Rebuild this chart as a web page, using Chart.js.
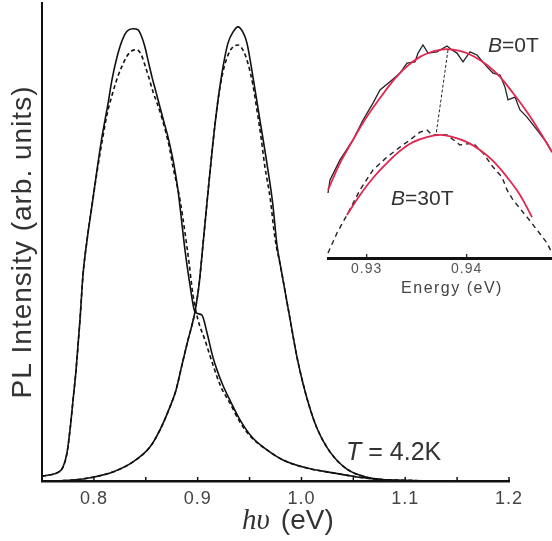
<!DOCTYPE html>
<html>
<head>
<meta charset="utf-8">
<title>PL spectra</title>
<script src="https://cdn.jsdelivr.net/npm/chart.js@4.4.1/dist/chart.umd.min.js"></script>
<style>
  html, body { margin: 0; padding: 0; background: #fff; overflow: hidden; }
  #wrap { position: relative; width: 552px; height: 541px; overflow: hidden; background: #fff; }
  #mainChart { position: absolute; left: 0; top: 0; }
  #insetChart { position: absolute; left: 327px; top: 20px; }
</style>
</head>
<body>
<div id="wrap">
  <canvas id="mainChart" width="552" height="541"></canvas>
  <canvas id="insetChart" width="248" height="283"></canvas>
</div>
<script>
// Main spectra (energy in eV, intensity in arb. units)
const lowSolidE = [0.7500,0.7577,0.7645,0.7702,0.7741,0.7770,0.7799,0.7828,0.7866,0.7895,0.7934,0.7982,0.8030,0.8078,0.8107,0.8136,0.8174,0.8223,0.8271,0.8319,0.8377,0.8425,0.8454,0.8492,0.8521,0.8560,0.8598,0.8637,0.8675,0.8714,0.8743,0.8772,0.8810,0.8839,0.8878,0.8926,0.8974,0.9041,0.9090,0.9147,0.9234,0.9311,0.9408,0.9523,0.9668,0.9822,1.0053,1.0303,1.0496,1.0631,1.0853,1.1527];
const lowSolidI = [0.010,0.013,0.017,0.029,0.059,0.107,0.169,0.232,0.337,0.431,0.504,0.577,0.651,0.720,0.755,0.789,0.839,0.887,0.921,0.941,0.946,0.944,0.933,0.908,0.881,0.845,0.814,0.782,0.751,0.720,0.692,0.661,0.609,0.556,0.483,0.410,0.354,0.347,0.310,0.259,0.205,0.169,0.128,0.092,0.065,0.044,0.027,0.017,0.010,0.006,0.002,0.000];

const lowDashE = [0.7500,0.7577,0.7645,0.7702,0.7741,0.7770,0.7799,0.7828,0.7866,0.7895,0.7934,0.7982,0.8030,0.8078,0.8126,0.8184,0.8232,0.8271,0.8319,0.8367,0.8415,0.8454,0.8492,0.8531,0.8570,0.8608,0.8656,0.8695,0.8733,0.8762,0.8801,0.8830,0.8878,0.8916,0.8955,0.9003,0.9070,0.9138,0.9224,0.9311,0.9408,0.9523,0.9668,0.9822,1.0053,1.0303,1.0496,1.0631,1.0853,1.1527];
const lowDashI = [0.010,0.013,0.017,0.029,0.059,0.107,0.169,0.232,0.337,0.431,0.504,0.577,0.646,0.709,0.766,0.814,0.847,0.868,0.889,0.900,0.902,0.893,0.870,0.843,0.814,0.791,0.759,0.728,0.692,0.657,0.619,0.588,0.519,0.458,0.389,0.337,0.295,0.249,0.197,0.163,0.123,0.090,0.065,0.044,0.027,0.017,0.010,0.006,0.002,0.000];

const highSolidE = [0.7500,0.7799,0.7991,0.8184,0.8377,0.8540,0.8637,0.8733,0.8791,0.8849,0.8907,0.8945,0.8974,0.9013,0.9051,0.9099,0.9147,0.9196,0.9244,0.9292,0.9340,0.9388,0.9436,0.9475,0.9533,0.9600,0.9677,0.9725,0.9764,0.9803,0.9880,0.9957,1.0014,1.0072,1.0149,1.0275,1.0438,1.0631,1.0853,1.1527];
const highSolidI = [0.000,0.002,0.008,0.019,0.040,0.071,0.107,0.155,0.190,0.243,0.295,0.326,0.354,0.410,0.494,0.603,0.707,0.797,0.866,0.916,0.939,0.950,0.939,0.916,0.845,0.755,0.651,0.577,0.494,0.444,0.351,0.259,0.205,0.159,0.111,0.061,0.025,0.008,0.002,0.000];

const highDashE = [0.7500,0.7799,0.7991,0.8184,0.8377,0.8540,0.8637,0.8733,0.8791,0.8849,0.8907,0.8945,0.8974,0.9013,0.9051,0.9099,0.9147,0.9196,0.9244,0.9292,0.9340,0.9388,0.9436,0.9484,0.9533,0.9571,0.9610,0.9648,0.9697,0.9745,0.9803,0.9880,0.9957,1.0014,1.0072,1.0149,1.0275,1.0438,1.0631,1.0853,1.1527];
const highDashI = [0.000,0.002,0.008,0.019,0.040,0.071,0.107,0.155,0.190,0.243,0.295,0.326,0.354,0.410,0.494,0.603,0.707,0.797,0.856,0.891,0.908,0.912,0.902,0.874,0.828,0.776,0.720,0.657,0.594,0.508,0.444,0.351,0.259,0.205,0.159,0.111,0.061,0.025,0.008,0.002,0.000];

const mainTicks = [0.8, 0.9, 1.0, 1.1, 1.2];
const mainMinorTicks = [0.8, 0.85, 0.9, 0.95, 1.0, 1.05, 1.1, 1.15, 1.2];

// Inset: zoom on the high-energy peak
const b0E = [0.92613,0.92633,0.92733,0.92863,0.92963,0.93063,0.93133,0.93253,0.93333,0.93403,0.93483,0.93513,0.93563,0.93613,0.93703,0.93803,0.93853,0.93903,0.93963,0.94033,0.94103,0.94203,0.94263,0.94333,0.94383,0.94413,0.94483,0.94533,0.94603,0.94703,0.94803,0.94853];
const b0I = [0.273,0.328,0.412,0.496,0.580,0.651,0.706,0.748,0.777,0.819,0.824,0.861,0.895,0.861,0.866,0.891,0.874,0.861,0.824,0.866,0.853,0.803,0.777,0.769,0.718,0.664,0.676,0.622,0.592,0.538,0.483,0.445];
const b0FitE = [0.92613,0.92733,0.92863,0.92993,0.93133,0.93253,0.93383,0.93533,0.93683,0.93803,0.93933,0.94063,0.94203,0.94333,0.94463,0.94603,0.94733,0.94853];
const b0FitI = [0.286,0.399,0.496,0.588,0.672,0.739,0.798,0.845,0.870,0.878,0.870,0.849,0.811,0.761,0.693,0.613,0.529,0.445];

const b30E = [0.92613,0.92703,0.92813,0.92933,0.93063,0.93203,0.93333,0.93433,0.93533,0.93603,0.93653,0.93703,0.93803,0.93933,0.94063,0.94163,0.94263,0.94353,0.94403,0.94463,0.94603,0.94703,0.94803,0.94853];
const b30I = [0.021,0.105,0.189,0.286,0.370,0.424,0.466,0.496,0.529,0.538,0.517,0.517,0.517,0.475,0.483,0.441,0.382,0.340,0.286,0.244,0.172,0.118,0.063,0.021];
const b30FitE = [0.92803,0.92933,0.93063,0.93203,0.93333,0.93463,0.93603,0.93733,0.93863,0.94003,0.94133,0.94263,0.94403,0.94533,0.94653];
const b30FitI = [0.181,0.265,0.336,0.399,0.450,0.487,0.508,0.517,0.508,0.487,0.454,0.408,0.340,0.265,0.172];

const shiftE = [0.93813, 0.93693];
const shiftI = [0.874, 0.517];

const insetTicks = [0.93, 0.94];

const SANS = "'Liberation Sans', Arial, sans-serif";
Chart.defaults.font.family = SANS;

function pts(xs, ys) {
    return xs.map((v, i) => ({ x: v, y: ys[i] }));
}

function setTicks(values) {
    return scale => { scale.ticks = values.map(v => ({ value: v })); };
}

// the original lettering is a bit spaced out
function spacing(px) {
    return {
        id: 'spacing',
        beforeDraw(chart) { chart.ctx.letterSpacing = px; },
        afterDraw(chart) { chart.ctx.letterSpacing = '0px'; }
    };
}

// inward tick marks + annotations on the main chart
const mainLabels = {
    id: 'mainLabels',
    afterDraw(chart) {
        const { ctx, scales: { x, y } } = chart;
        ctx.save();
        ctx.letterSpacing = '0px';
        ctx.strokeStyle = '#111';
        ctx.lineWidth = 1.5;
        mainMinorTicks.forEach(v => {
            const px = x.getPixelForValue(v);
            ctx.beginPath();
            ctx.moveTo(px, y.bottom);
            ctx.lineTo(px, y.bottom - 4);
            ctx.stroke();
        });

        ctx.fillStyle = '#333';
        ctx.textBaseline = 'alphabetic';
        // T = 4.2K
        let tx = x.getPixelForValue(1.043);
        const ty = y.getPixelForValue(0.044);
        ctx.font = 'italic 25px ' + SANS;
        ctx.fillText('T', tx, ty);
        tx += ctx.measureText('T').width;
        ctx.font = '25px ' + SANS;
        ctx.fillText(' = 4.2K', tx, ty);

        // x axis title: h(nu) (eV)
        let hx = 242;
        ctx.font = "italic 29px 'Liberation Serif', 'DejaVu Serif', serif";
        ctx.fillText('hυ', hx, 529);
        hx += ctx.measureText('hυ').width + 11;
        ctx.font = '28px ' + SANS;
        ctx.fillText('(eV)', hx, 529);
        ctx.restore();
    }
};

new Chart(document.getElementById('mainChart'), {
    type: 'line',
    data: {
        datasets: [
            { data: pts(lowSolidE, lowSolidI), borderColor: '#111', borderWidth: 1.6 },
            { data: pts(lowDashE, lowDashI), borderColor: '#111', borderWidth: 1.6, borderDash: [4, 3] },
            { data: pts(highSolidE, highSolidI), borderColor: '#111', borderWidth: 1.6 },
            { data: pts(highDashE, highDashI), borderColor: '#111', borderWidth: 1.6, borderDash: [4, 3] }
        ]
    },
    options: {
        responsive: false,
        animation: false,
        layout: { padding: { top: 3, right: 43, left: 0, bottom: 0 } },
        elements: {
            point: { radius: 0 },
            line: { cubicInterpolationMode: 'monotone', fill: false }
        },
        scales: {
            x: {
                type: 'linear',
                min: 0.75,
                max: 1.2,
                afterBuildTicks: setTicks(mainTicks),
                afterFit: s => { s.height = 60; },
                grid: { display: false, drawTicks: false },
                border: { display: true, color: '#111', width: 2.5 },
                ticks: {
                    padding: 7,
                    maxRotation: 0,
                    color: '#444',
                    font: { size: 18 },
                    callback: v => v.toFixed(1)
                }
            },
            y: {
                type: 'linear',
                min: 0,
                max: 1,
                afterFit: s => { s.width = 42; },
                grid: { display: false, drawTicks: false },
                border: { display: true, color: '#111', width: 2 },
                ticks: { display: false },
                title: {
                    display: true,
                    text: 'PL Intensity (arb. units)',
                    color: '#333',
                    font: { size: 28 },
                    padding: { top: 6, bottom: 0 }
                }
            }
        },
        plugins: { legend: { display: false }, tooltip: { enabled: false } }
    },
    plugins: [spacing('1px'), mainLabels]
});

// inset labels
const insetLabels = {
    id: 'insetLabels',
    afterDraw(chart) {
        const { ctx, scales: { x, y } } = chart;
        ctx.save();
        ctx.letterSpacing = '0px';
        ctx.strokeStyle = '#111';
        ctx.lineWidth = 1.2;
        insetTicks.forEach(v => {
            const px = x.getPixelForValue(v);
            ctx.beginPath();
            ctx.moveTo(px, y.bottom);
            ctx.lineTo(px, y.bottom - 4);
            ctx.stroke();
        });

        ctx.fillStyle = '#333';
        ctx.textBaseline = 'alphabetic';
        const drawB = (rest, e, v) => {
            let bx = x.getPixelForValue(e);
            const by = y.getPixelForValue(v);
            ctx.font = 'italic 21px ' + SANS;
            ctx.fillText('B', bx, by);
            bx += ctx.measureText('B').width;
            ctx.font = '21px ' + SANS;
            ctx.fillText(rest, bx, by);
        };
        drawB('=0T', 0.94213, 0.866);
        drawB('=30T', 0.93243, 0.223);

        ctx.font = '16px ' + SANS;
        ctx.letterSpacing = '1.5px';
        ctx.textAlign = 'center';
        ctx.fillStyle = '#444';
        ctx.fillText('Energy (eV)', (x.left + x.right) / 2 + 1, y.bottom + 35);
        ctx.restore();
    }
};

new Chart(document.getElementById('insetChart'), {
    type: 'line',
    data: {
        datasets: [
            { data: pts(b0FitE, b0FitI), borderColor: '#e3264f', borderWidth: 1.8, tension: 0.4, order: 0 },
            { data: pts(b30FitE, b30FitI), borderColor: '#e3264f', borderWidth: 1.8, tension: 0.4, order: 0 },
            { data: pts(b0E, b0I), borderColor: '#222', borderWidth: 1.3, tension: 0, order: 1 },
            { data: pts(b30E, b30I), borderColor: '#222', borderWidth: 1.4, tension: 0, borderDash: [5, 4], order: 1 },
            { data: pts(shiftE, shiftI), borderColor: '#222', borderWidth: 1, tension: 0, borderDash: [3, 2], order: 1 }
        ]
    },
    options: {
        responsive: false,
        animation: false,
        layout: { padding: 0 },
        elements: { point: { radius: 0 }, line: { fill: false } },
        scales: {
            x: {
                type: 'linear',
                min: 0.92603,
                max: 0.95083,
                afterBuildTicks: setTicks(insetTicks),
                afterFit: s => { s.height = 45; },
                grid: { display: false, drawTicks: false },
                border: { display: true, color: '#111', width: 3 },
                ticks: {
                    padding: 3,
                    maxRotation: 0,
                    color: '#555',
                    font: { size: 14 },
                    callback: v => v.toFixed(2)
                }
            },
            y: {
                type: 'linear',
                display: false,
                min: 0,
                max: 1
            }
        },
        plugins: { legend: { display: false }, tooltip: { enabled: false } }
    },
    plugins: [spacing('1px'), insetLabels]
});
</script>
</body>
</html>
